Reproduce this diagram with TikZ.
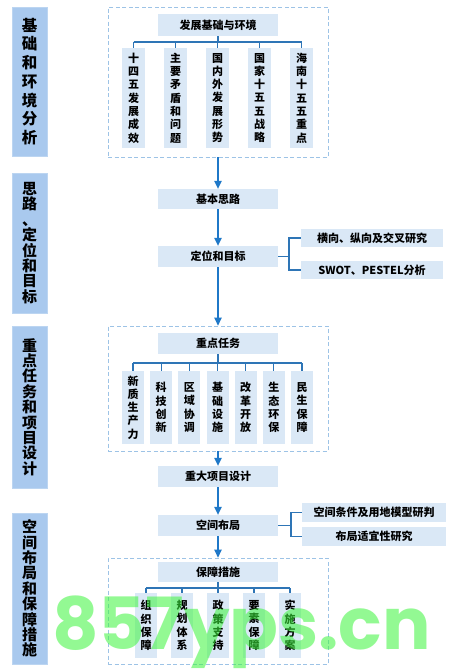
\documentclass[tikz,border=0pt]{standalone}
\usepackage{fontspec}
\setmainfont{Noto Sans CJK SC}
\newfontfamily\wmfont{Poppins}
\usetikzlibrary{arrows.meta}
\definecolor{sidefill}{HTML}{A9C9EE}
\definecolor{sideline}{HTML}{BCD5F1}
\definecolor{boxfill}{HTML}{DAE8F6}
\definecolor{linec}{HTML}{2E75B6}
\definecolor{arrowc}{HTML}{1F78C8}
\definecolor{dashc}{HTML}{9DC3E6}
\definecolor{wmc}{RGB}{60,245,60}
\begin{document}
\begin{tikzpicture}[x=1pt,y=-1pt,
  side/.style={fill=sidefill, draw=sideline, line width=0.8pt, inner sep=0pt,
    minimum width=35pt, align=center, font=\fontsize{15}{15.4}\selectfont\bfseries},
  hbox/.style={fill=boxfill, draw=none, inner sep=0pt, minimum width=120pt,
    minimum height=21pt, font=\fontsize{11}{13}\selectfont\bfseries},
  rbox/.style={fill=boxfill, draw=none, inner sep=0pt,
    minimum height=18.5pt, font=\fontsize{11}{13}\selectfont\bfseries},
  col/.style={fill=boxfill, draw=none, inner sep=0pt, minimum width=22pt,
    align=center, font=\fontsize{11}{13.3}\selectfont\bfseries},
  dbox/.style={draw=dashc, line width=0.8pt, dash pattern=on 4pt off 2.5pt,
    inner sep=0pt, minimum width=220pt},
  conn/.style={draw=linec, line width=1.1pt},
  arr/.style={draw=arrowc, line width=1.1pt, -{Triangle[width=7.5pt,length=8pt]}}
]
\useasboundingbox (0,0) rectangle (456,670);
\fill[white] (0,0) rectangle (456,670);

% ---- left stage labels ----
\node[side, minimum height=149pt, font=\fontsize{15.5}{18.7}\selectfont\bfseries] (s1) at (29.5,81.5)
  {基\\础\\和\\环\\境\\分\\析};
\node[side, minimum height=140pt] (s2) at (29.5,243) {思\\路\\、\\定\\位\\和\\目\\标};
\node[side, minimum height=162pt] (s3) at (29.5,407) {重\\点\\任\\务\\和\\项\\目\\设\\计};
\node[side, minimum height=151pt] (s4) at (29.5,588.5) {空\\间\\布\\局\\和\\保\\障\\措\\施};

% ---- section 1 ----
\node[dbox, minimum height=150pt] (d1) at (218,82) {};
\node[hbox, minimum height=22pt] (h1) at (218,25) {发展基础与环境};
\coordinate (t1) at (218,42);
\node[col, minimum width=23pt, minimum height=100pt] (a1) at (133.5,98) {十\\四\\五\\发\\展\\成\\效};
\node[col, minimum width=23pt, minimum height=100pt] (a2) at (175.5,98) {主\\要\\矛\\盾\\和\\问\\题};
\node[col, minimum width=23pt, minimum height=100pt] (a3) at (217.5,98) {国\\内\\外\\发\\展\\形\\势};
\node[col, minimum width=23pt, minimum height=100pt] (a4) at (259.5,98) {国\\家\\十\\五\\五\\战\\略};
\node[col, minimum width=23pt, minimum height=100pt] (a5) at (301.5,98) {海\\南\\十\\五\\五\\重\\点};
\draw[conn] (h1.south) -- (t1);
\draw[conn] (a1.north |- t1) -- (a5.north |- t1);
\foreach \c in {a1,a2,a3,a4,a5} \draw[conn] (\c.north |- t1) -- (\c.north);

% ---- section 2 ----
\node[hbox, minimum height=20pt] (b1) at (218,199) {基本思路};
\node[hbox] (b2) at (218,256.5) {定位和目标};
\node[rbox, minimum width=142pt] (r1) at (372,238) {横向、纵向及交叉研究};
\node[rbox, minimum width=142pt] (r2) at (372,270) {SWOT、PESTEL分析};
\coordinate (j1) at (289,256.5);
\draw[conn] (b2.east) -- (j1);
\draw[conn] (r1.west) -| (j1) |- (r2.west);

% ---- section 3 ----
\node[dbox, minimum height=125pt] (d2) at (218,388.5) {};
\node[hbox] (h2) at (218,343.5) {重点任务};
\coordinate (t2) at (218,363);
\node[col, minimum height=73pt] (m1) at (133,407.5) {新\\质\\生\\产\\力};
\node[col, minimum height=73pt] (m2) at (161.2,407.5) {科\\技\\创\\新};
\node[col, minimum height=73pt] (m3) at (189.3,407.5) {区\\域\\协\\调};
\node[col, minimum height=73pt] (m4) at (217.5,407.5) {基\\础\\设\\施};
\node[col, minimum height=73pt] (m5) at (245.7,407.5) {改\\革\\开\\放};
\node[col, minimum height=73pt] (m6) at (273.8,407.5) {生\\态\\环\\保};
\node[col, minimum height=73pt] (m7) at (302,407.5) {民\\生\\保\\障};
\draw[conn] (h2.south) -- (t2);
\draw[conn] (m1.north |- t2) -- (m7.north |- t2);
\foreach \c in {m1,m2,m3,m4,m5,m6,m7} \draw[conn] (\c.north |- t2) -- (\c.north);

\node[hbox] (b3) at (218,476.5) {重大项目设计};

% ---- section 4 ----
\node[hbox] (b4) at (218,525.5) {空间布局};
\node[rbox, minimum width=144pt, minimum height=19pt] (r3) at (374,512.5) {空间条件及用地模型研判};
\node[rbox, minimum width=144pt, minimum height=19pt] (r4) at (374,536.5) {布局适宜性研究};
\coordinate (j2) at (291,525.5);
\draw[conn] (b4.east) -- (j2);
\draw[conn] (r3.west) -| (j2) |- (r4.west);

\node[dbox, minimum height=106pt] (d3) at (218,611) {};
\node[hbox, minimum height=20pt] (h3) at (218,572) {保障措施};
\coordinate (t3) at (218,588);
\node[col, minimum height=65pt] (p1) at (146,625.5) {组\\织\\保\\障};
\node[col, minimum height=65pt] (p2) at (182,625.5) {规\\划\\体\\系};
\node[col, minimum height=65pt] (p3) at (218,625.5) {政\\策\\支\\持};
\node[col, minimum height=65pt] (p4) at (254,625.5) {要\\素\\保\\障};
\node[col, minimum height=65pt] (p5) at (290,625.5) {实\\施\\方\\案};
\draw[conn] (h3.south) -- (t3);
\draw[conn] (p1.north |- t3) -- (p5.north |- t3);
\foreach \c in {p1,p2,p3,p4,p5} \draw[conn] (\c.north |- t3) -- (\c.north);

% ---- main flow arrows ----
\draw[arr] (d1.south) -- (b1.north);
\draw[arr] (b1.south) -- (b2.north);
\draw[arr] (b2.south) -- (d2.north);
\draw[arr] (d2.south) -- (b3.north);
\draw[arr] (b3.south) -- (b4.north);
\draw[arr] (b4.south) -- (d3.north);

% ---- watermark ----
\node[anchor=base, inner sep=0pt, text=wmc, text opacity=0.55,
  font=\wmfont\bfseries\fontsize{72}{72}\selectfont] (wm) at (241.5,649) {857yps.cn};
\end{tikzpicture}
\end{document}
